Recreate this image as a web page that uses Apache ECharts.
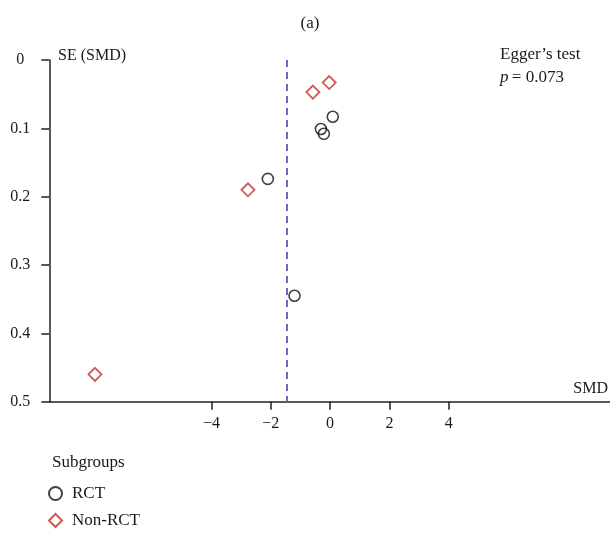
<!DOCTYPE html>
<html><head><meta charset="utf-8">
<script src="https://cdn.jsdelivr.net/npm/echarts@6/dist/echarts.min.js"></script>
<style>html,body{margin:0;padding:0;background:#fff}#c{width:610px;height:533px}</style>
</head><body><div id="c"></div>
<script>
// ---- data ----
const rctSMD = [0.09, -0.31, -0.21, -2.10, -1.20];
const rctSE  = [0.083, 0.101, 0.108, 0.174, 0.345];
const nonSMD = [-0.03, -0.58, -2.77, -7.93];
const nonSE  = [0.033, 0.047, 0.190, 0.460];
const pooledSMD = -1.46;
const xTicks = [-4, -2, 0, 2, 4];
const yTicks = [0, 0.1, 0.2, 0.3, 0.4, 0.5];
const seriesNames = ['RCT', 'Non-RCT'];
const eggerP = '0.073';

const FONT = '"Liberation Serif", "DejaVu Serif", serif';
const chart = echarts.init(document.getElementById('c'), null, {renderer: 'canvas'});
const zip = (a, b) => a.map((v, i) => [v, b[i]]);

chart.setOption({
  animation: false,
  textStyle: {fontFamily: FONT, color: '#1a1a1a'},
  title: [
    {text: '(a)', left: 305, top: 10, textAlign: 'center',
     textStyle: {fontFamily: FONT, fontSize: 17, fontWeight: 'normal', color: '#1a1a1a'}},
    {text: 'Subgroups', left: 47, top: 449,
     textStyle: {fontFamily: FONT, fontSize: 17, fontWeight: 'normal', color: '#1a1a1a'}}
  ],
  legend: {
    orient: 'vertical', left: 48, top: 485, itemWidth: 13, itemHeight: 13, itemGap: 10,
    data: seriesNames, padding: 0,
    textStyle: {fontFamily: FONT, fontSize: 17, color: '#1a1a1a', padding: [0, 0, 0, 5]}
  },
  grid: {left: 49.3, right: 0, top: 60, bottom: 131.3, containLabel: false},
  xAxis: {
    type: 'value', min: -9.47, max: 9.44,
    splitLine: {show: false},
    axisLine: {onZero: false, lineStyle: {color: '#222', width: 1.5}},
    axisTick: {customValues: xTicks, length: 8, lineStyle: {color: '#222', width: 1.5}},
    axisLabel: {customValues: xTicks, margin: 14, fontSize: 16, fontFamily: FONT, color: '#1a1a1a',
      formatter: v => (v < 0 ? '\u2212' + Math.abs(v) : String(v))}
  },
  yAxis: {
    type: 'value', inverse: true, min: 0, max: 0.5, interval: 0.1,
    splitLine: {show: false},
    axisLine: {onZero: false, lineStyle: {color: '#222', width: 1.5}},
    axisTick: {length: 8, lineStyle: {color: '#222', width: 1.5}},
    axisLabel: {margin: 29, align: 'center', fontSize: 16, fontFamily: FONT, color: '#1a1a1a',
      formatter: v => String(Math.round(v * 10) / 10)}
  },
  graphic: [
    {type: 'text', left: 58, top: 48, style: {text: 'SE (SMD)', font: '16px ' + FONT, fill: '#1a1a1a'}},
    {type: 'text', right: 2, top: 381, style: {text: 'SMD', font: '16px ' + FONT, fill: '#1a1a1a'}},
    {type: 'text', left: 500, top: 46, style: {text: 'Egger\u2019s test', font: '17px ' + FONT, fill: '#1a1a1a'}},
    {type: 'text', left: 500, top: 69, style: {
      rich: {i: {font: 'italic 17px ' + FONT, fill: '#1a1a1a'}, n: {font: '17px ' + FONT, fill: '#1a1a1a'}},
      text: '{i|p} {n|= ' + eggerP + '}'}}
  ],
  series: [
    {
      name: seriesNames[0], type: 'scatter', data: zip(rctSMD, rctSE),
      symbol: 'circle', symbolSize: 11,
      itemStyle: {color: 'rgba(0,0,0,0)', borderColor: '#111', borderWidth: 1.6},
      markLine: {
        silent: true, symbol: 'none', label: {show: false},
        lineStyle: {color: '#7466c4', type: [7, 5], width: 2},
        data: [{xAxis: pooledSMD}]
      },
      z: 3
    },
    {
      name: seriesNames[1], type: 'scatter', data: zip(nonSMD, nonSE),
      symbol: 'diamond', symbolSize: 13,
      itemStyle: {color: 'rgba(0,0,0,0)', borderColor: '#c0302a', borderWidth: 1.8},
      z: 3
    }
  ]
});
</script></body></html>
